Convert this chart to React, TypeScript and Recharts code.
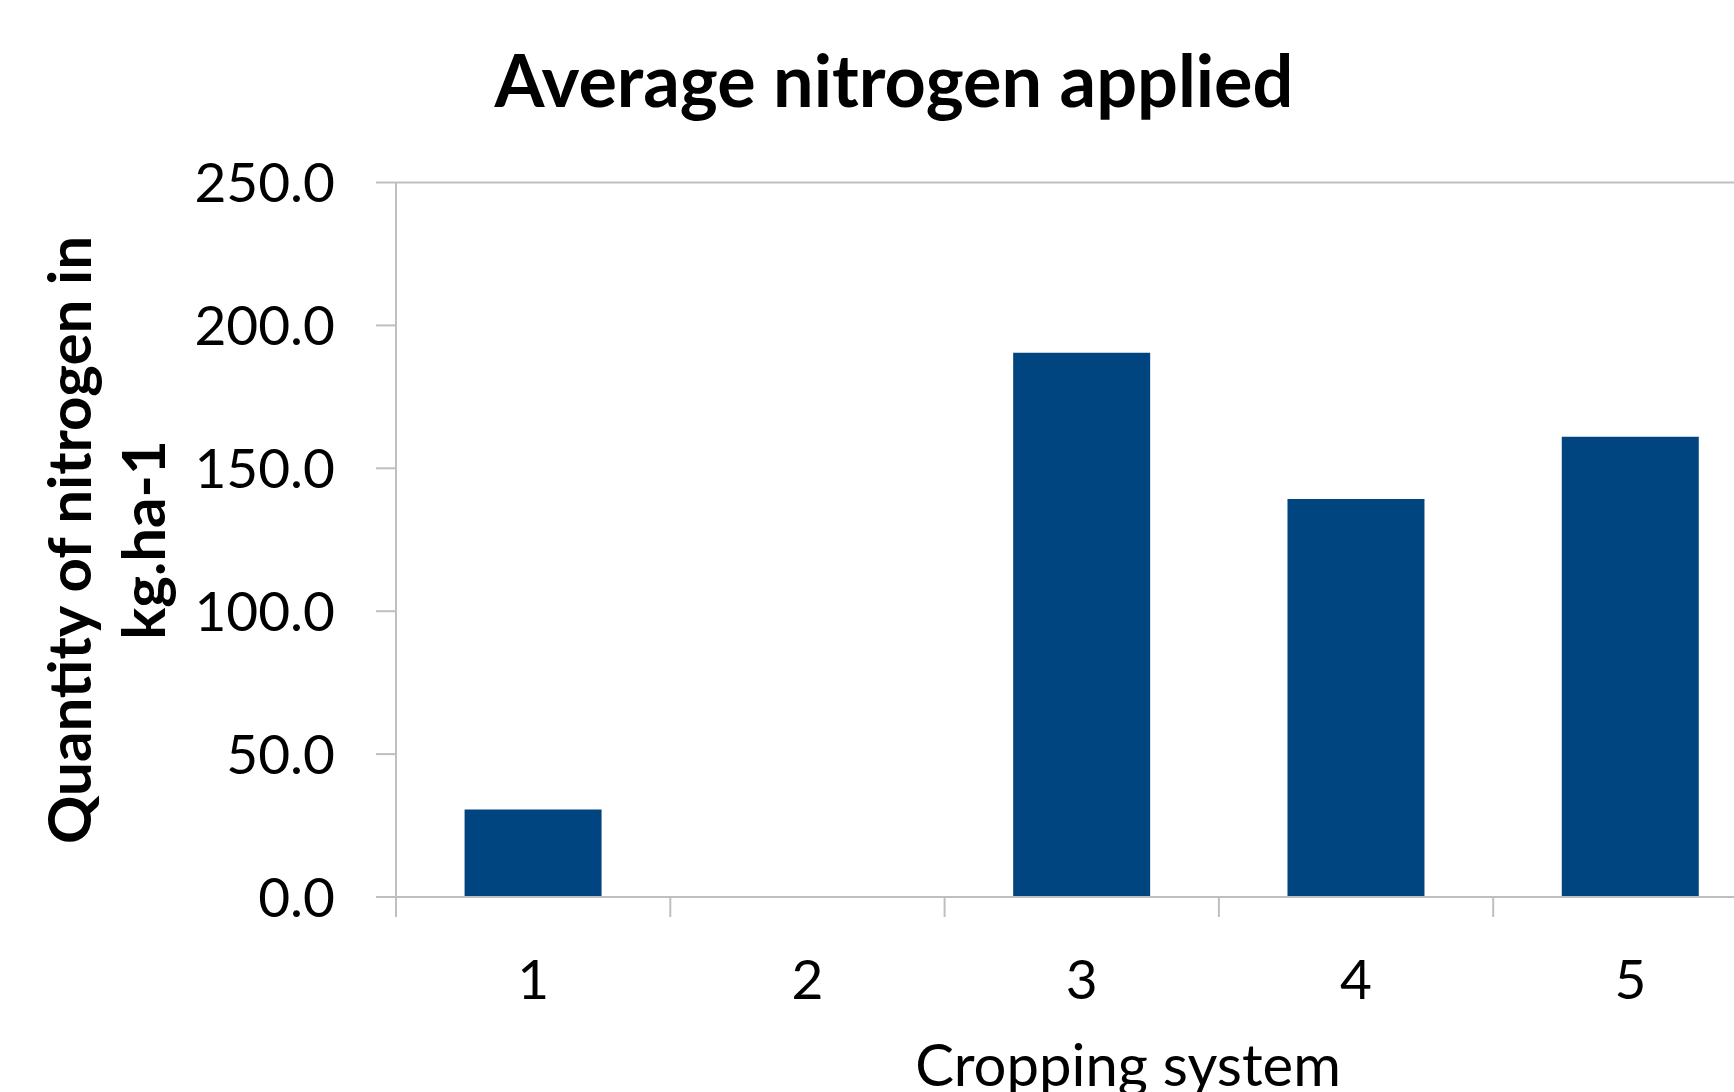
import React from 'react';
import { BarChart, Bar, XAxis, YAxis, ReferenceLine } from 'recharts';

const systems = ['1', '2', '3', '4', '5'];
const nitrogen = [30.6, 0, 190.4, 139.3, 161.0];
const yTicks = [0, 50, 100, 150, 200, 250];

const data = systems.map((s, i) => ({ system: s, nitrogen: nitrogen[i] }));

const AXIS = '#BFBFBF';
const BAR = '#00457F';
const FONT = 'Lato, "Open Sans", sans-serif';
const TICK_SIZE = 20;
const X_TICK_MARGIN = 43;

// excel puts the category ticks between the bars, so draw them half a band to the left
const CategoryTick = (props: any) => {
  const { x, y, payload } = props;
  const half = payload && payload.offset ? payload.offset : 137;
  const axisY = y - X_TICK_MARGIN - TICK_SIZE;
  return (
    <g>
      <line x1={x - half} x2={x - half} y1={axisY} y2={axisY + TICK_SIZE} stroke={AXIS} strokeWidth={2} />
      <text x={x} y={y} dy="0.71em" textAnchor="middle" fill="#000" fontSize={55} fontFamily={FONT}>
        {payload.value}
      </text>
    </g>
  );
};

const YTitle = () => (
  <text transform="translate(0,540) rotate(-90)" textAnchor="middle" fontFamily={FONT} fontWeight="bold" fontSize={60} fill="#000">
    <tspan x={0} y={91}>Quantity of nitrogen in</tspan>
    <tspan x={0} y={165}>kg.ha-1</tspan>
  </text>
);

const XTitle = () => (
  <text x={1128} y={1086} textAnchor="middle" fontFamily={FONT} fontSize={58} fill="#000">
    Cropping system
  </text>
);

export default function App() {
  return (
    <div style={{ position: 'absolute', left: 0, top: 0, width: 1734, height: 1092, overflow: 'hidden', background: '#fff' }}>
      <div
        style={{
          position: 'absolute',
          left: 0,
          top: 43,
          width: 1788,
          textAlign: 'center',
          fontFamily: FONT,
          fontWeight: 'bold',
          fontSize: 72,
          lineHeight: '72px',
          color: '#000',
        }}
      >
        Average nitrogen applied
      </div>
      <BarChart
        width={1800}
        height={1092}
        data={data}
        margin={{ top: 182.5, right: 32.5, bottom: 0, left: 0 }}
        barCategoryGap="25%"
      >
        <ReferenceLine y={250} stroke={AXIS} strokeWidth={2} />
        <XAxis
          dataKey="system"
          height={195}
          axisLine={{ stroke: AXIS, strokeWidth: 2 }}
          tickLine={false}
          tickSize={TICK_SIZE}
          tickMargin={X_TICK_MARGIN}
          tick={<CategoryTick />}
          interval={0}
          label={{ content: () => <XTitle /> }}
        />
        <YAxis
          width={396}
          domain={[0, 250]}
          ticks={yTicks}
          interval={0}
          tickFormatter={(v: number) => v.toFixed(1)}
          axisLine={{ stroke: AXIS, strokeWidth: 2 }}
          tickLine={{ stroke: AXIS, strokeWidth: 2 }}
          tickSize={TICK_SIZE}
          tickMargin={41}
          tick={{ fill: '#000', fontSize: 55, fontFamily: FONT }}
          label={{ content: () => <YTitle /> }}
        />
        <Bar dataKey="nitrogen" fill={BAR} isAnimationActive={false} />
      </BarChart>
    </div>
  );
}
